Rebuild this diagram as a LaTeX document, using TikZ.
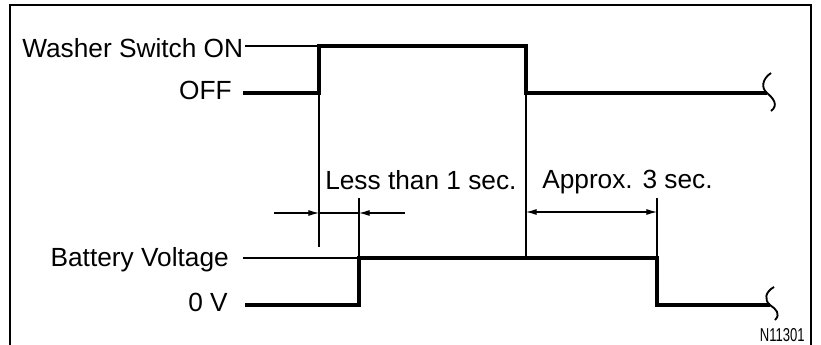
\documentclass[tikz,border=0pt]{standalone}
\usepackage{fontspec}
\usepackage{graphicx}
\setmainfont{Liberation Sans}
\usetikzlibrary{arrows.meta}
\begin{document}
\begin{tikzpicture}[x=0.75pt,y=-0.75pt,
  lbl/.style={inner sep=0pt, font=\fontsize{19.7}{23}\selectfont},
  sig/.style={line width=2.6pt, line join=miter},
  thinl/.style={line width=0.8pt},
  ext/.style={line width=1.1pt},
  dimarrow/.style={line width=0.8pt, -{Latex[length=8pt,width=4.5pt]}},
  dimboth/.style={line width=0.8pt, {Latex[length=8pt,width=4.5pt]}-{Latex[length=8pt,width=4.5pt]}},
  brk/.style={line width=1.4pt},
  frame/.style={line width=1.7pt}]
\useasboundingbox (0,0) rectangle (821,344);
% frame
\draw[frame] (10,350) -- (10,5) -- (811,5) -- (811,350);

% labels
\node[lbl, anchor=base west] (won) at (22,57) {Washer Switch ON};
\node[lbl, anchor=base east] (off) at (232,99) {OFF};
\node[lbl, anchor=base east] (bat) at (229,266) {Battery Voltage};
\node[lbl, anchor=base east] (zero) at (228,311) {0 V};
\node[lbl, anchor=base west] (less) at (325,189) {Less than 1 sec.};
\node[lbl, anchor=base west] (appr) at (542,188) {Approx. 3 sec.};
\node[inner sep=0pt, anchor=base east, font=\fontsize{14}{16}\selectfont] (code) at (805,341) {\scalebox{0.7}[1]{N11301}};

% switch signal coordinates
\coordinate (s0) at (243,93);
\coordinate (s1) at (319,93);
\coordinate (s2) at (319,46);
\coordinate (s3) at (526,46);
\coordinate (s4) at (526,93);
\coordinate (s5) at (767,93);
\coordinate (on0) at (245,46);
\draw[thinl] (on0) -- (s2);
\draw[sig] (s0) -- (s1) -- (s2) -- (s3) -- (s4) -- (s5);

% battery signal coordinates
\coordinate (b0) at (245,305);
\coordinate (b1) at (359,305);
\coordinate (b2) at (359,258);
\coordinate (b3) at (657,258);
\coordinate (b4) at (657,305);
\coordinate (b5) at (770,305);
\coordinate (bv0) at (243,258);
\draw[thinl] (bv0) -- (b2);
\draw[sig] (b0) -- (b1) -- (b2) -- (b3) -- (b4) -- (b5);

% extension lines
\coordinate (e1) at (319,247);
\coordinate (e2) at (526,258);
\coordinate (e3) at (359,198);
\coordinate (e4) at (657,198);
\draw[thinl] (s1) -- (e1);
\draw[thinl] (s4) -- (e2);
\draw[ext] (e3) -- (b2);
\draw[ext] (e4) -- (b3);

% dimension: less than 1 sec
\coordinate (d1a) at (274,213);
\coordinate (d1b) at (319,213);
\coordinate (d1c) at (359,213);
\coordinate (d1d) at (405,213);
\draw[dimarrow] (d1a) -- (d1b);
\draw[dimarrow] (d1d) -- (d1c);
\draw[thinl] (d1b) -- (d1c);

% dimension: approx 3 sec
\coordinate (d2a) at (526,212);
\coordinate (d2b) at (657,212);
\draw[dimboth] (d2a) -- (d2b);

% break marks
\draw[brk] (771,73) .. controls (762,79) and (761,88) .. (s5) .. controls (773,98) and (779,105) .. (771,111);
\draw[brk] (774,287) .. controls (765,292) and (764,300) .. (b5) .. controls (776,309) and (781,314) .. (775,320);
\end{tikzpicture}
\end{document}
